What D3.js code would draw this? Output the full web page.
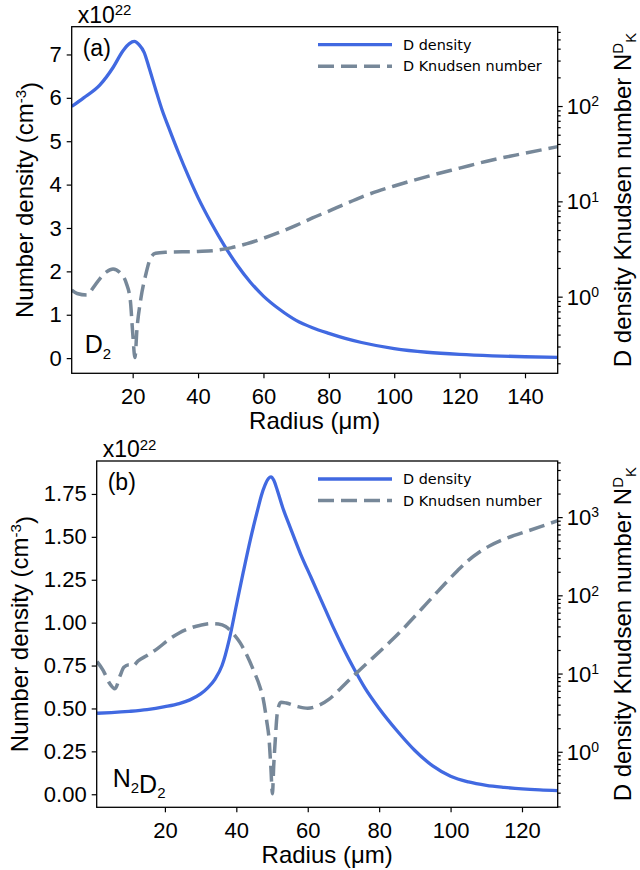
<!DOCTYPE html>
<html><head><meta charset="utf-8">
<script src="https://cdn.jsdelivr.net/npm/d3@7"></script>
<style>
html,body{margin:0;padding:0;background:#fff;}
svg{display:block;}
text{font-family:"Liberation Sans",Arial,Helvetica,sans-serif;fill:#000;}
</style></head>
<body>
<svg id="c" width="640" height="870"></svg>
<script>
// ---- Panel (a) D2 ----
const xA = [1.35, 5, 10, 14, 17, 19, 20.5, 22, 23.5, 25, 27, 29, 31, 34, 37, 40, 44, 48, 52, 56, 60, 65, 70, 75, 80, 85, 90, 100, 110, 120, 130, 140, 150];
const densA = [5.8, 6.0, 6.3, 6.7, 7.08, 7.25, 7.3, 7.22, 7.05, 6.7, 6.2, 5.72, 5.32, 4.74, 4.2, 3.7, 3.12, 2.6, 2.14, 1.75, 1.43, 1.12, 0.87, 0.7, 0.57, 0.455, 0.36, 0.22, 0.135, 0.085, 0.053, 0.032, 0.018];
const xKA = [1.35, 3, 6, 8, 10, 12, 14, 16, 18, 19.3, 20, 20.7, 21.3, 22.5, 24, 25.5, 27, 30, 40, 45, 50, 55, 60, 65, 70, 75, 80, 85, 90, 95, 100, 110, 120, 130, 140, 150];
const knA = [1.17, 1.08, 1.04, 1.25, 1.55, 1.82, 1.95, 1.8, 1.4, 0.9, 0.42, 0.23, 0.45, 0.95, 1.7, 2.55, 2.85, 2.92, 2.98, 3.05, 3.25, 3.6, 4.1, 4.75, 5.6, 6.7, 7.9, 9.4, 11.1, 12.8, 14.5, 18.2, 22.3, 27.2, 32, 37.5];
const xTicksA = [20, 40, 60, 80, 100, 120, 140];
const yTicksA = [0, 1, 2, 3, 4, 5, 6, 7];
const rTicksA = [1, 10, 100];

// ---- Panel (b) N2D2 ----
const xB = [1, 5, 10, 15, 20, 24, 27, 30, 32, 34, 36, 38, 40, 42, 44, 46, 47, 48, 49, 49.7, 50.5, 51.5, 53, 55, 58, 61, 64, 67, 70, 73, 76, 80, 85, 90, 95, 100, 105, 110, 115, 120, 125, 130];
const densB = [0.472, 0.476, 0.483, 0.493, 0.51, 0.528, 0.55, 0.585, 0.62, 0.67, 0.75, 0.9, 1.10, 1.30, 1.49, 1.66, 1.74, 1.80, 1.84, 1.85, 1.83, 1.77, 1.67, 1.56, 1.40, 1.26, 1.12, 0.98, 0.85, 0.73, 0.62, 0.50, 0.37, 0.255, 0.165, 0.105, 0.072, 0.052, 0.04, 0.031, 0.025, 0.021];
const xKB = [1, 2.7, 4.5, 6, 7.5, 8.5, 10, 11, 12.5, 15, 18, 21, 24, 27, 30, 33, 35, 37, 39, 41, 43, 45, 46.5, 47.5, 48.5, 49.2, 49.7, 50.1, 50.5, 50.9, 51.5, 52.5, 54, 57, 60, 63, 66, 69, 72, 75, 78, 81, 84, 87, 90, 93, 96, 99, 102, 105, 108, 111, 114, 117, 120, 125, 130];
const knB = [14.2, 11, 7.5, 6.4, 9.5, 12, 13, 12.5, 14.5, 17, 21, 27, 33, 38, 41.5, 43.5, 43, 40, 33, 25, 17, 10.5, 7, 4.8, 2.5, 1.4, 0.6, 0.29, 0.7, 1.4, 3.2, 4.3, 4.2, 3.8, 3.6, 3.9, 4.7, 6.3, 8.6, 11.6, 15.5, 20.8, 28, 38.5, 54, 76, 107, 150, 208, 280, 355, 430, 500, 565, 628, 750, 900];
const xTicksB = [20, 40, 60, 80, 100, 120];
const yTicksB = [0, 0.25, 0.5, 0.75, 1.0, 1.25, 1.5, 1.75];
const rTicksB = [1, 10, 100, 1000];

const legendLabels = ["D density", "D Knudsen number"];
const BLUE = "#4169e1", GRAY = "#778899";

const svg = d3.select("#c");

function panel(cfg) {
  const {L, R, T, B} = cfg;
  const g = svg.append("g");
  const x = d3.scaleLinear().domain(cfg.xDom).range([L, R]);
  const y = d3.scaleLinear().domain(cfg.yDom).range([B, T]);
  const yr = d3.scaleLog().domain(cfg.rDom).range([B, T]);
  const cid = "clip" + cfg.id;
  svg.append("clipPath").attr("id", cid).append("rect")
    .attr("x", L).attr("y", T).attr("width", R - L).attr("height", B - T);

  // lines
  const ld = d3.line().x(d => x(d[0])).y(d => y(d[1])).curve(d3.curveMonotoneX);
  const lk = d3.line().x(d => x(d[0])).y(d => yr(d[1])).curve(d3.curveMonotoneX);
  g.append("path").attr("clip-path", `url(#${cid})`)
    .attr("d", ld(cfg.xd.map((v, i) => [v, cfg.dd[i]])))
    .attr("fill", "none").attr("stroke", BLUE).attr("stroke-width", 3.3);
  g.append("path").attr("clip-path", `url(#${cid})`)
    .attr("d", lk(cfg.xk.map((v, i) => [v, cfg.kk[i]])))
    .attr("fill", "none").attr("stroke", GRAY).attr("stroke-width", 3.5)
    .attr("stroke-dasharray", "16,7");

  // axes
  const ax = g.append("g").attr("transform", `translate(0,${B})`)
    .call(d3.axisBottom(x).tickValues(cfg.xTicks).tickSize(5).tickPadding(10).tickFormat(d3.format("d")));
  g.append("g").attr("transform", `translate(${L},0)`)
    .call(d3.axisLeft(y).tickValues(cfg.yTicks).tickSize(5).tickPadding(5).tickFormat(cfg.yFmt));
  const [r0, r1] = cfg.rDom;
  const minors = [];
  for (let e = Math.floor(Math.log10(r0)); e <= Math.ceil(Math.log10(r1)); e++)
    for (let m = 2; m <= 9; m++) { const v = m * Math.pow(10, e); if (v >= r0 && v <= r1) minors.push(v); }
  g.append("g").attr("transform", `translate(${R},0)`)
    .call(d3.axisRight(yr).tickValues(minors).tickSize(3).tickFormat(""));
  const ar = g.append("g").attr("transform", `translate(${R},0)`)
    .call(d3.axisRight(yr).tickValues(cfg.rTicks).tickSize(5).tickPadding(5).tickFormat(""));
  ar.selectAll(".tick text").each(function(d) {
    const t = d3.select(this).attr("dy", "0.34em").attr("x", 9);
    t.append("tspan").text("10");
    t.append("tspan").attr("dy", "-0.55em").attr("font-size", "14px").text(Math.round(Math.log10(d)));
  });
  g.selectAll(".domain").remove();
  g.selectAll(".tick line").attr("stroke", "#000").attr("stroke-width", 1.2);
  g.selectAll(".tick text").attr("font-size", "22px").attr("fill", "#000")
    .style("font-family", '"Liberation Sans",Arial,sans-serif');
  ax.selectAll(".tick text").attr("dy", "0.71em");

  // frame
  g.append("rect").attr("x", L).attr("y", T).attr("width", R - L).attr("height", B - T)
    .attr("fill", "none").attr("stroke", "#000").attr("stroke-width", 1.3);

  // labels
  g.append("text").attr("x", (L + R) / 2).attr("y", B + 56).attr("text-anchor", "middle")
    .attr("font-size", "24px").text("Radius (\u03bcm)");
  const yl = g.append("text").attr("transform", `translate(${cfg.ylx},${(T + B) / 2}) rotate(-90)`)
    .attr("text-anchor", "middle").attr("font-size", "24px");
  yl.append("tspan").text("Number density (cm");
  yl.append("tspan").attr("dy", "-0.5em").attr("font-size", "15px").text("-3");
  yl.append("tspan").attr("dy", "0.5em").text(")");
  const rl = g.append("text").attr("transform", `translate(631,${(T + B) / 2}) rotate(-90)`)
    .attr("text-anchor", "middle").attr("font-size", "24px");
  rl.append("tspan").text("D density Knudsen number N");
  rl.append("tspan").attr("dy", "-0.55em").attr("font-size", "15px").text("D");
  rl.append("tspan").attr("dy", "0.85em").attr("font-size", "15px").text("K");

  const sc = g.append("text").attr("x", L + 6).attr("y", T - 4).attr("font-size", "23px");
  sc.append("tspan").text("x10");
  sc.append("tspan").attr("dy", "-0.5em").attr("font-size", "15px").text("22");

  g.append("text").attr("x", L + 11).attr("y", T + 29).attr("font-size", "23px").text(cfg.tag);

  const sp = g.append("text").attr("x", L + cfg.spx).attr("y", B - 20).attr("font-size", "25px");
  cfg.species.forEach(([s, sub]) => {
    sp.append("tspan").attr("dy", 0).text(s);
    if (sub) { sp.append("tspan").attr("font-size", "15px").attr("dy", "0.35em").text(sub); sp.append("tspan").attr("dy", "-0.35em").text(""); }
  });

  // legend
  const lx0 = 318, lx1 = 392, ly = T + 18;
  g.append("line").attr("x1", lx0).attr("x2", lx1).attr("y1", ly).attr("y2", ly)
    .attr("stroke", BLUE).attr("stroke-width", 3.3);
  g.append("line").attr("x1", lx0).attr("x2", lx1).attr("y1", ly + 21.5).attr("y2", ly + 21.5)
    .attr("stroke", GRAY).attr("stroke-width", 3.5).attr("stroke-dasharray", "16,7");
  legendLabels.forEach((s, i) => {
    g.append("text").attr("x", 403).attr("y", ly + 5 + i * 21.5)
      .attr("font-size", "14.4px").style("font-family", '"DejaVu Sans",sans-serif').text(s);
  });
}

panel({id: "a", L: 71.7, R: 557.7, T: 26.7, B: 373.3, xDom: [1.35, 150], yDom: [-0.35, 7.64], rDom: [0.157, 680],
  xd: xA, dd: densA, xk: xKA, kk: knA, xTicks: xTicksA, yTicks: yTicksA, rTicks: rTicksA, yFmt: d3.format("d"),
  ylx: 33, tag: "(a)", spx: 13, species: [["D", "2"]]});
panel({id: "b", L: 96.7, R: 557.7, T: 461, B: 807.3, xDom: [0.9, 130], yDom: [-0.076, 1.942], rDom: [0.195, 5215],
  xd: xB, dd: densB, xk: xKB, kk: knB, xTicks: xTicksB, yTicks: yTicksB, rTicks: rTicksB, yFmt: d3.format(".2f"),
  ylx: 28, tag: "(b)", spx: 16, species: [["N", "2"], ["D", "2"]]});
</script>
</body></html>
